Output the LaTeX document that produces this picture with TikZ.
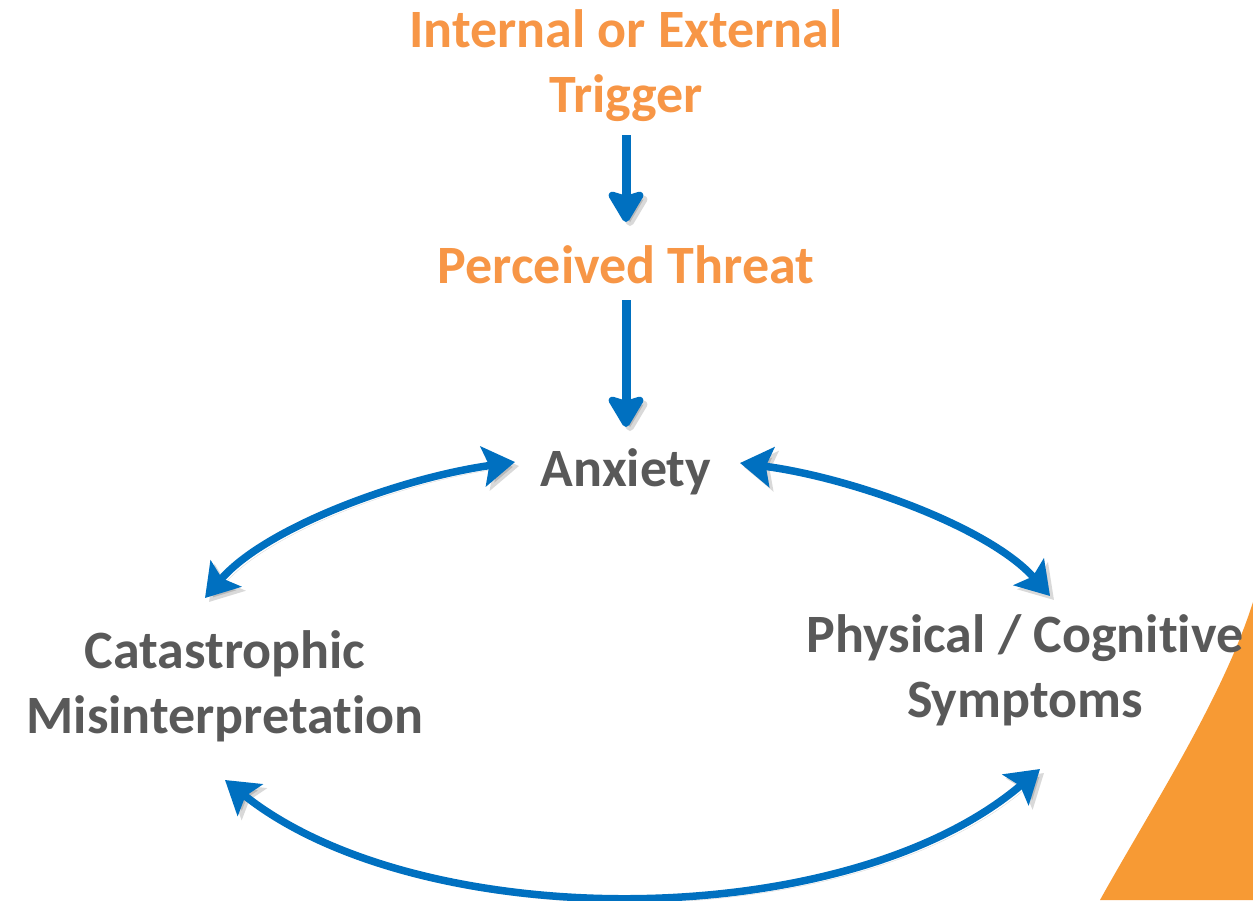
\documentclass[tikz,border=0pt]{standalone}
\usepackage{fontspec}
\setmainfont{Carlito}[RawFeature={-liga}]
\usetikzlibrary{arrows.meta}
\definecolor{orangetxt}{HTML}{F79646}
\definecolor{orangefill}{HTML}{F79A34}
\definecolor{graytxt}{HTML}{595959}
\definecolor{bluearrow}{HTML}{0070C0}
\tikzset{
  lbl/.style={font=\fontsize{54}{65}\selectfont\bfseries, align=center, inner sep=0pt},
  orangelbl/.style={lbl, text=orangetxt},
  graylbl/.style={lbl, text=graytxt},
  shadowed/.style={preaction={draw=black, opacity=0.15, transform canvas={shift={(4pt,-4pt)}}}},
  vert/.style={draw=bluearrow, line width=9pt, shadowed,
    -{Stealth[length=36pt, width=42pt, inset=6pt, round]}},
  curv/.style={draw=bluearrow, line width=7.5pt, shadowed,
    {Stealth[length=32pt, width=40pt, inset=6pt]}-{Stealth[length=32pt, width=40pt, inset=6pt]}}
}
\begin{document}
\begin{tikzpicture}[x=1pt, y=-1pt]
\useasboundingbox (0,0) rectangle (1253,900);
% orange corner shape
\fill[orangefill] (1253,602) .. controls (1222,700) and (1150,810) .. (1100,900) -- (1253,900) -- cycle;
% labels
\node[orangelbl] (trigger) at (626,66) {Internal or External\\Trigger};
\node[orangelbl] (threat) at (626,265) {Perceived Threat};
\node[graylbl] (anxiety) at (626,472) {Anxiety};
\node[graylbl] (catas) at (225,686) {Catastrophic\\Misinterpretation};
\node[graylbl] (phys) at (1025,670) {Physical / Cognitive\\Symptoms};
% endpoints
\coordinate (t1) at (626,135);
\coordinate (t2) at (626,222);
\coordinate (p1) at (626,300);
\coordinate (p2) at (626,427);
\coordinate (al) at (515,462);
\coordinate (ar) at (740,463);
\coordinate (cl) at (205,598);
\coordinate (cr) at (1050,596);
\coordinate (bl) at (225,780);
\coordinate (br) at (1040,769);
% arrows
\draw[vert] (t1) -- (t2);
\draw[vert] (p1) -- (p2);
\draw[curv] (al) .. controls (400,478) and (265,528) .. (cl);
\draw[curv] (ar) .. controls (854,478) and (990,528) .. (cr);
\draw[curv] (bl) .. controls (420,935) and (845,935) .. (br);
\end{tikzpicture}
\end{document}
